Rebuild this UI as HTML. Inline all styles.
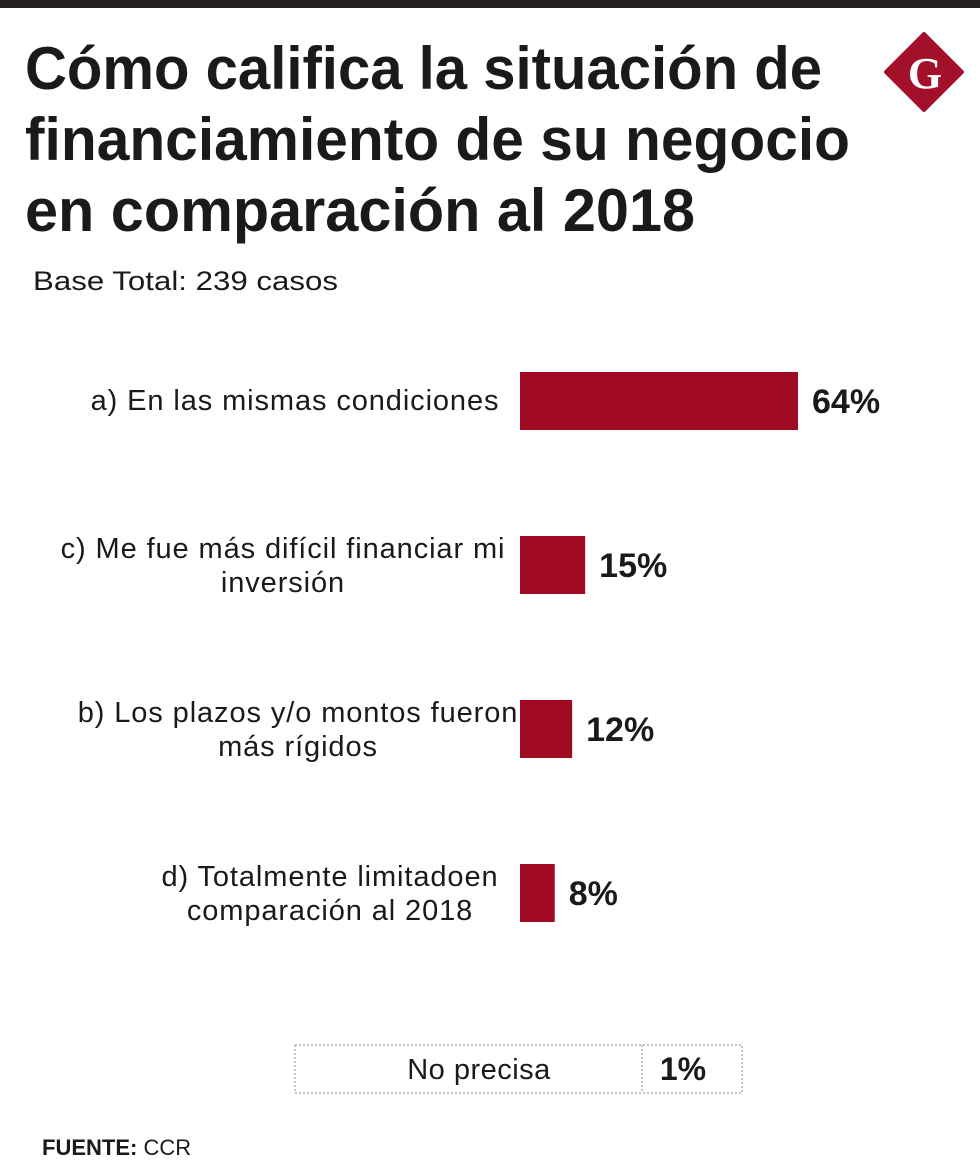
<!DOCTYPE html>
<html><head><meta charset="utf-8"><style>
html,body{margin:0;padding:0;background:#fff;}
svg{display:block;}
text{font-family:"Liberation Sans",sans-serif;fill:#1a1a1a;}
</style></head><body>
<svg width="980" height="1162" viewBox="0 0 980 1162">
<rect x="0" y="0" width="980" height="8" fill="#231f20"/>
<g>
<polygon points="924,34 962,72 924,110 886,72" fill="#a3102a" stroke="#a3102a" stroke-width="4" stroke-linejoin="round"/>
<text x="925" y="88" text-anchor="middle" font-size="44" font-weight="bold" style="font-family:'Liberation Serif',serif;fill:#fff">G</text>
</g>
<g font-weight="bold" font-size="60">
<text x="25" y="89" textLength="797" lengthAdjust="spacingAndGlyphs">Cómo califica la situación de</text>
<text x="25" y="160" textLength="825" lengthAdjust="spacingAndGlyphs">financiamiento de su negocio</text>
<text x="25" y="231" textLength="670" lengthAdjust="spacingAndGlyphs">en comparación al 2018</text>
</g>
<text x="33" y="290" font-size="27" textLength="305" lengthAdjust="spacingAndGlyphs">Base Total: 239 casos</text>
<g id="bars"></g>
<g>
<rect x="295" y="1045" width="447" height="48" fill="none" stroke="#888" stroke-width="1" stroke-dasharray="2,2"/>
<line x1="642" y1="1045" x2="642" y2="1093" stroke="#888" stroke-dasharray="2,2"/>
<text x="479" y="1079" text-anchor="middle" font-size="29" letter-spacing="0.5">No precisa</text>
<text x="683" y="1080" text-anchor="middle" font-size="32" font-weight="bold">1%</text>
</g>
<text x="42" y="1155" font-size="22"><tspan font-weight="bold">FUENTE:</tspan> CCR</text>
</svg>
<script>
const categories=[["a) En las mismas condiciones"],["c) Me fue más difícil financiar mi","inversión"],["b) Los plazos y/o montos fueron","más rígidos"],["d) Totalmente limitadoen","comparación al 2018"]];
const values=[64,15,12,8];
const labelCenters=[295,283,298,330];
const NS="http://www.w3.org/2000/svg";
const g=document.getElementById('bars');
const x0=520, scale=278/64;
function xLen(v){return v*scale;}
function yTop(i){return 372+i*164;}
values.forEach((v,i)=>{
  const r=document.createElementNS(NS,'rect');
  r.setAttribute('x',x0);r.setAttribute('y',yTop(i));
  r.setAttribute('width',xLen(v));r.setAttribute('height',58);
  r.setAttribute('fill','#a00a22');
  
  
  g.appendChild(r);
  const t=document.createElementNS(NS,'text');
  t.setAttribute('x',x0+xLen(v)+14);t.setAttribute('y',yTop(i)+41);
  t.setAttribute('font-size','34');t.setAttribute('font-weight','bold');
  t.textContent=v+'%';
  
  
  g.appendChild(t);
  const lines=categories[i];
  lines.forEach((ln,j)=>{
    const c=document.createElementNS(NS,'text');
    const base=lines.length===1?yTop(i)+38:yTop(i)+22+j*34;
    c.setAttribute('x',labelCenters[i]);c.setAttribute('y',base);
    c.setAttribute('text-anchor','middle');c.setAttribute('font-size','29');
    c.setAttribute('letter-spacing','0.9');
    c.textContent=ln;
    
    
    g.appendChild(c);
  });
});
</script>
</body></html>
